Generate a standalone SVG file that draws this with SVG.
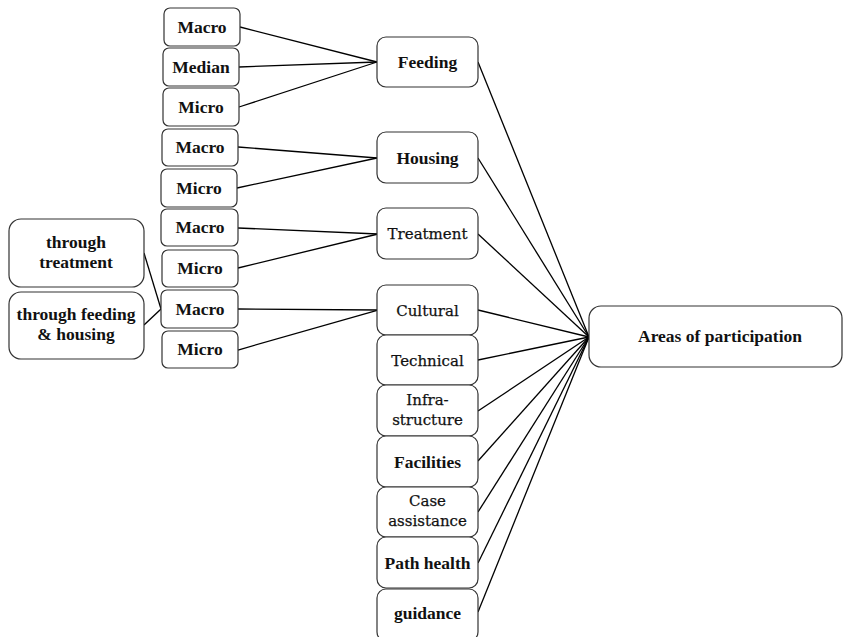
<svg xmlns="http://www.w3.org/2000/svg" width="843" height="637" viewBox="0 0 843 637">
<style>
.box{fill:#fff;stroke:#333;stroke-width:1.2}
.b{font-family:"Liberation Serif","Times New Roman",serif;font-weight:bold;font-size:17.5px;fill:#111;text-anchor:middle}
.r{font-family:"DejaVu Serif",serif;font-size:15px;fill:#111;stroke:#111;stroke-width:0.25;text-anchor:middle}
.c line{stroke:#000;stroke-width:1.3}
</style>
<rect width="843" height="637" fill="#fff"/>
<g class="c" id="connectors">
<line x1="240" y1="27" x2="377" y2="62"/>
<line x1="239" y1="67" x2="377" y2="62"/>
<line x1="239" y1="107" x2="377" y2="62"/>
<line x1="238" y1="147" x2="377" y2="158"/>
<line x1="237" y1="188" x2="377" y2="158"/>
<line x1="238" y1="228" x2="378" y2="234"/>
<line x1="238" y1="268" x2="378" y2="234"/>
<line x1="238" y1="309" x2="378" y2="310"/>
<line x1="238" y1="350" x2="378" y2="310"/>
<line x1="144" y1="253" x2="161" y2="309"/>
<line x1="144" y1="325" x2="161" y2="309"/>
<line x1="478" y1="62" x2="589" y2="337"/>
<line x1="478" y1="158" x2="589" y2="337"/>
<line x1="478" y1="234" x2="589" y2="337"/>
<line x1="478" y1="310" x2="589" y2="337"/>
<line x1="478" y1="360" x2="589" y2="337"/>
<line x1="478" y1="411" x2="589" y2="337"/>
<line x1="478" y1="461" x2="589" y2="337"/>
<line x1="478" y1="512" x2="589" y2="337"/>
<line x1="478" y1="563" x2="589" y2="337"/>
<line x1="478" y1="612" x2="589" y2="337"/>
</g>
<g id="n-macro1"><rect class="box" x="164" y="8" width="76" height="38" rx="6"/><text class="b" x="202" y="33">Macro</text></g>
<g id="n-median"><rect class="box" x="163" y="48" width="76" height="38" rx="6"/><text class="b" x="201" y="73">Median</text></g>
<g id="n-micro1"><rect class="box" x="163" y="88" width="76" height="38" rx="6"/><text class="b" x="201" y="113">Micro</text></g>
<g id="n-macro2"><rect class="box" x="162" y="129" width="76" height="37" rx="6"/><text class="b" x="200" y="153">Macro</text></g>
<g id="n-micro2"><rect class="box" x="161" y="169" width="76" height="38" rx="6"/><text class="b" x="199" y="194">Micro</text></g>
<g id="n-macro3"><rect class="box" x="161" y="209" width="77" height="37" rx="6"/><text class="b" x="200" y="233">Macro</text></g>
<g id="n-micro3"><rect class="box" x="162" y="250" width="76" height="37" rx="6"/><text class="b" x="200" y="274">Micro</text></g>
<g id="n-macro4"><rect class="box" x="161" y="290" width="77" height="38" rx="6"/><text class="b" x="200" y="315">Macro</text></g>
<g id="n-micro4"><rect class="box" x="162" y="331" width="76" height="37" rx="6"/><text class="b" x="200" y="355">Micro</text></g>
<g id="n-through-treatment"><rect class="box" x="9" y="219" width="135" height="68" rx="12"/><text class="b" x="76" y="248">through</text><text class="b" x="76" y="268">treatment</text></g>
<g id="n-through-feeding"><rect class="box" x="9" y="292" width="135" height="67" rx="12"/><text class="b" x="76" y="320">through feeding</text><text class="b" x="76" y="340">&amp; housing</text></g>
<g id="n-feeding"><rect class="box" x="377" y="37" width="101" height="50" rx="9"/><text class="b" x="427.5" y="68">Feeding</text></g>
<g id="n-housing"><rect class="box" x="377" y="132" width="101" height="51" rx="9"/><text class="b" x="427.5" y="164">Housing</text></g>
<g id="n-treatment"><rect class="box" x="377" y="208" width="101" height="51" rx="9"/><text class="r" x="427.5" y="239">Treatment</text></g>
<g id="n-cultural"><rect class="box" x="377" y="285" width="101" height="50" rx="9"/><text class="r" x="427.5" y="316">Cultural</text></g>
<g id="n-technical"><rect class="box" x="377" y="335" width="101" height="50" rx="9"/><text class="r" x="427.5" y="366">Technical</text></g>
<g id="n-infra"><rect class="box" x="377" y="385" width="101" height="51" rx="9"/><text class="r" x="427.5" y="405">Infra-</text><text class="r" x="427.5" y="425">structure</text></g>
<g id="n-facilities"><rect class="box" x="377" y="436" width="101" height="51" rx="9"/><text class="b" x="427.5" y="468">Facilities</text></g>
<g id="n-case"><rect class="box" x="377" y="487" width="101" height="50" rx="9"/><text class="r" x="427.5" y="506">Case</text><text class="r" x="427.5" y="526">assistance</text></g>
<g id="n-path"><rect class="box" x="377" y="537" width="101" height="51" rx="9"/><text class="b" x="427.5" y="569">Path health</text></g>
<g id="n-guidance"><rect class="box" x="377" y="589" width="101" height="52" rx="9"/><text class="b" x="427.5" y="619">guidance</text></g>
<g id="n-areas"><rect class="box" x="589" y="306" width="253" height="61" rx="12"/><text class="b" x="720" y="342">Areas of participation</text></g>
</svg>
